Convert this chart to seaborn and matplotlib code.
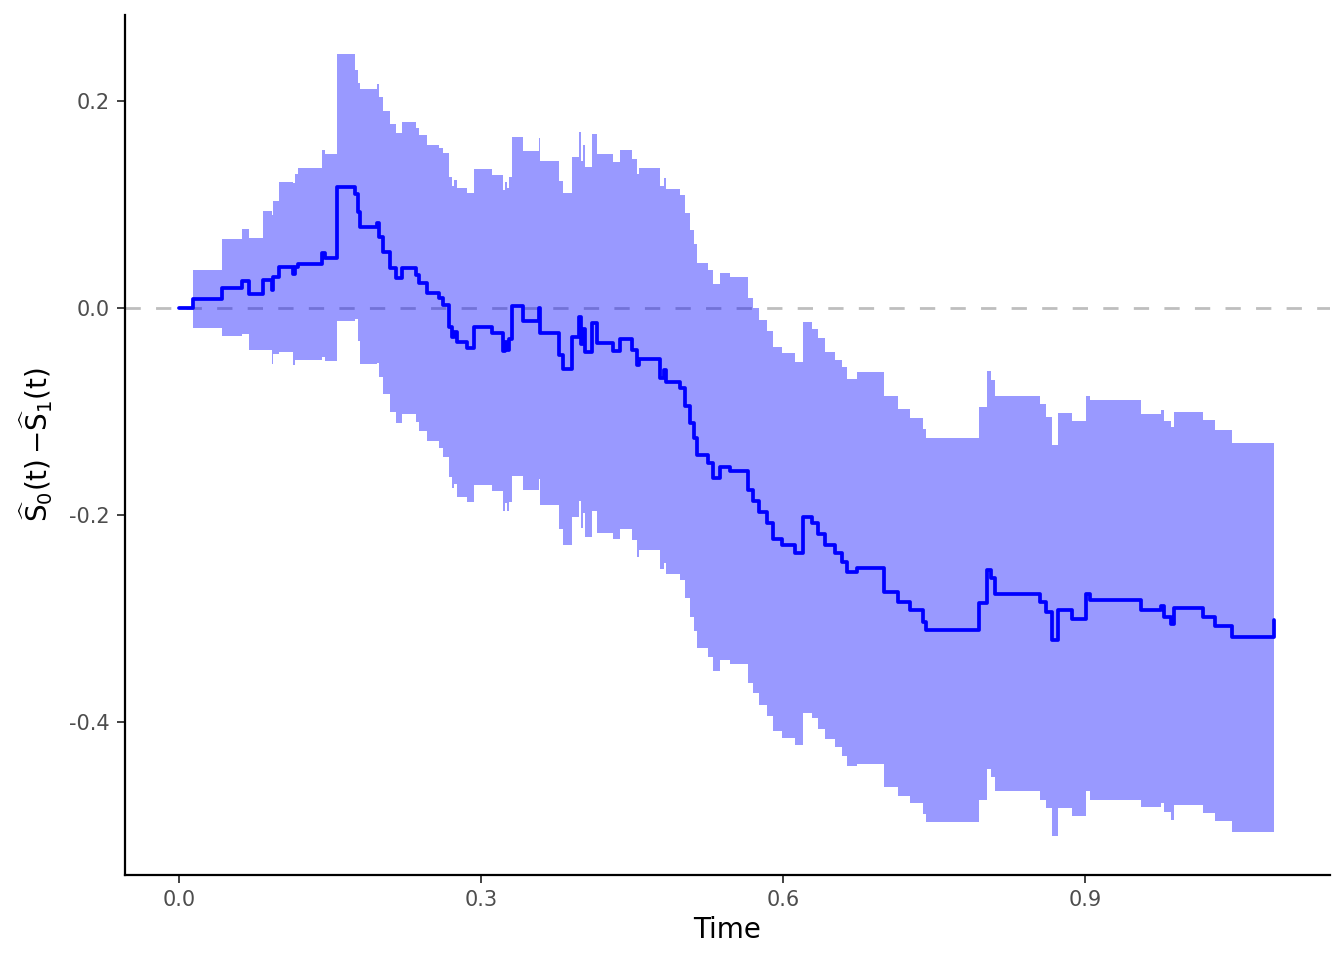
import numpy as np
import pandas as pd
import matplotlib
matplotlib.use("Agg")
import matplotlib.pyplot as plt
import seaborn as sns

# Difference of Kaplan-Meier curves with pointwise band
time = [0.000, 0.014, 0.043, 0.063, 0.070, 0.083, 0.092, 0.093, 0.099, 0.113,
        0.115, 0.118, 0.142, 0.145, 0.157, 0.175, 0.178, 0.180, 0.197, 0.199,
        0.203, 0.210, 0.216, 0.222, 0.235, 0.238, 0.246, 0.258, 0.262, 0.268,
        0.271, 0.273, 0.276, 0.286, 0.293, 0.311, 0.322, 0.324, 0.326, 0.328,
        0.331, 0.342, 0.358, 0.359, 0.378, 0.381, 0.390, 0.397, 0.399, 0.401,
        0.403, 0.410, 0.415, 0.431, 0.438, 0.450, 0.455, 0.457, 0.478, 0.482,
        0.484, 0.498, 0.503, 0.508, 0.512, 0.515, 0.526, 0.530, 0.537, 0.547,
        0.565, 0.570, 0.576, 0.584, 0.590, 0.599, 0.612, 0.620, 0.629, 0.635,
        0.642, 0.652, 0.659, 0.664, 0.674, 0.700, 0.714, 0.726, 0.739, 0.742,
        0.795, 0.803, 0.807, 0.811, 0.855, 0.861, 0.867, 0.873, 0.887, 0.901,
        0.905, 0.956, 0.976, 0.978, 0.985, 0.988, 1.017, 1.029, 1.046, 1.088]

diff = [0.000, 0.009, 0.020, 0.026, 0.014, 0.027, 0.018, 0.030, 0.040, 0.033,
        0.040, 0.043, 0.053, 0.049, 0.117, 0.110, 0.093, 0.079, 0.082, 0.069,
        0.054, 0.039, 0.029, 0.039, 0.032, 0.024, 0.015, 0.010, 0.003, -0.018,
        -0.028, -0.023, -0.033, -0.038, -0.018, -0.024, -0.041, -0.033, -0.040, -0.030,
        0.002, -0.012, 0.000, -0.024, -0.045, -0.059, -0.028, -0.008, -0.035, -0.020,
        -0.042, -0.014, -0.034, -0.041, -0.030, -0.040, -0.055, -0.049, -0.067, -0.060,
        -0.071, -0.077, -0.094, -0.111, -0.125, -0.142, -0.150, -0.164, -0.153, -0.157,
        -0.176, -0.186, -0.197, -0.208, -0.223, -0.229, -0.237, -0.202, -0.208, -0.218,
        -0.229, -0.237, -0.245, -0.255, -0.251, -0.274, -0.284, -0.292, -0.303, -0.311,
        -0.285, -0.253, -0.261, -0.276, -0.284, -0.294, -0.321, -0.292, -0.300, -0.276,
        -0.282, -0.292, -0.288, -0.298, -0.305, -0.290, -0.298, -0.307, -0.318, -0.301]

# half-width of the confidence band at each step
half_width = [0.000, 0.028, 0.047, 0.051, 0.054, 0.067, 0.072, 0.074, 0.082, 0.088,
              0.090, 0.093, 0.100, 0.100, 0.129, 0.120, 0.125, 0.133, 0.135, 0.135,
              0.137, 0.139, 0.140, 0.141, 0.142, 0.143, 0.143, 0.145, 0.147, 0.145,
              0.146, 0.147, 0.149, 0.149, 0.153, 0.153, 0.155, 0.155, 0.156, 0.157,
              0.164, 0.164, 0.165, 0.166, 0.168, 0.170, 0.174, 0.178, 0.177, 0.178,
              0.179, 0.182, 0.183, 0.182, 0.183, 0.184, 0.185, 0.185, 0.185, 0.186,
              0.186, 0.186, 0.186, 0.187, 0.187, 0.186, 0.187, 0.187, 0.187, 0.187,
              0.186, 0.186, 0.186, 0.186, 0.186, 0.186, 0.185, 0.189, 0.188, 0.189,
              0.187, 0.187, 0.188, 0.187, 0.189, 0.189, 0.187, 0.186, 0.186, 0.186,
              0.190, 0.192, 0.192, 0.191, 0.191, 0.189, 0.189, 0.191, 0.191, 0.191,
              0.193, 0.190, 0.190, 0.189, 0.190, 0.190, 0.190, 0.189, 0.188, 0.188]

x_ticks = [0.0, 0.3, 0.6, 0.9]
y_ticks = [-0.4, -0.2, 0.0, 0.2]

df = pd.DataFrame({"time": time, "diff": diff, "hw": half_width})
df["lower"] = df["diff"] - df["hw"]
df["upper"] = df["diff"] + df["hw"]

sns.set_theme(style="ticks")
plt.rcParams["font.family"] = ["DejaVu Sans"]
plt.rcParams["mathtext.default"] = "regular"

fig = plt.figure(figsize=(13.44, 9.6), dpi=100)
ax = fig.add_axes([0.093, 0.0885, 0.8966, 0.8955])

ax.axhline(0, color="#BEBEBE", lw=2.0, ls=(0, (5.5, 5.5)), zorder=1)
ax.fill_between(df["time"], df["lower"], df["upper"], step="post",
                color="blue", alpha=0.4, lw=0, zorder=2)
sns.lineplot(data=df, x="time", y="diff", ax=ax, color="blue", linewidth=2.7,
             drawstyle="steps-post", estimator=None, errorbar=None, zorder=3)

ax.set_xlim(-0.0536, 1.1434)
ax.set_ylim(-0.5478, 0.2831)
ax.set_xticks(x_ticks)
ax.set_xticklabels([f"{v:.1f}" for v in x_ticks])
ax.set_yticks(y_ticks)
ax.set_yticklabels([f"{v:.1f}" for v in y_ticks])

ax.set_xlabel("Time", fontsize=20, color="black", labelpad=4)
ax.set_ylabel(r"$\widehat{S}_0(t)\,{-}\widehat{S}_1(t)$", fontsize=20, color="black", labelpad=10)

ax.tick_params(axis="both", labelsize=15, labelcolor="#4D4D4D", color="#333333",
               length=6, width=1.3, pad=5)
for side in ["left", "bottom"]:
    ax.spines[side].set_linewidth(1.6)
    ax.spines[side].set_color("black")
sns.despine(ax=ax)
ax.grid(False)

fig.savefig("out.png", dpi=100)
